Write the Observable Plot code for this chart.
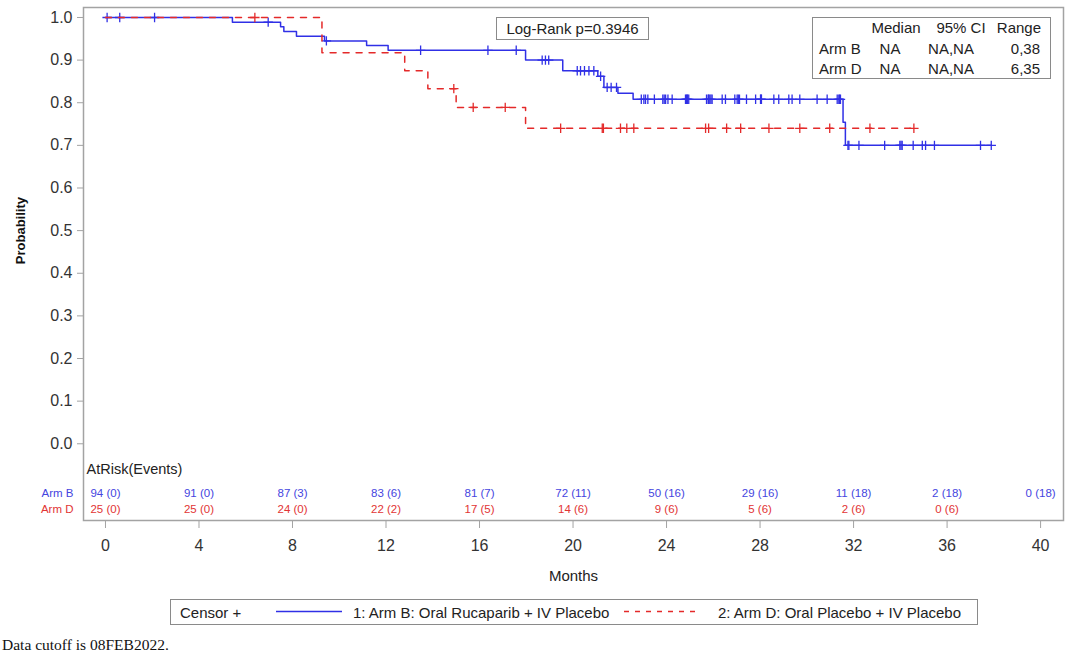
<!DOCTYPE html>
<html>
<head>
<meta charset="utf-8">
<script src="https://cdn.jsdelivr.net/npm/d3@7"></script>
<script src="https://cdn.jsdelivr.net/npm/@observablehq/plot@0.6"></script>
<style>
  body { margin: 0; background: #fff; font-family: "Liberation Sans", Arial, sans-serif; color: #222; }
  #wrap { position: relative; width: 1066px; height: 654px; overflow: hidden; background: #fff; }
  #chart { position: absolute; left: 0; top: 0; }
  .box { position: absolute; border: 1px solid #8a8a8a; background: #fff; box-sizing: border-box; }
  .cell { position: absolute; font-size: 15px; line-height: 1; white-space: nowrap; color: #222; }
  #legend { left: 170px; top: 599px; width: 808px; height: 26px; }
  #legend .item { position: absolute; top: 5px; font-size: 15px; line-height: 1; white-space: nowrap; }
  #legend svg { position: absolute; top: 0; }
  #caption { position: absolute; left: 2px; top: 636px; font-family: "Liberation Serif", "Times New Roman", serif; font-size: 15.5px; color: #111; white-space: nowrap; }
</style>
</head>
<body>
<div id="wrap">
  <div id="chart"></div>
  <div id="logrank" class="box"></div>
  <div id="stats" class="box"></div>
  <div id="legend" class="box"></div>
  <div id="caption"></div>
</div>
<script>
// Kaplan-Meier step points (months, survival probability)
const armBTimes = [0, 5.43, 7.49, 7.63, 8.17, 9.37, 11.17, 12.09, 17.97, 19.56, 21.06, 21.32, 21.92, 22.57, 31.55, 31.65, 37.89];
const armBSurv  = [1.0, 0.989, 0.978, 0.967, 0.956, 0.945, 0.934, 0.923, 0.900, 0.875, 0.862, 0.836, 0.822, 0.808, 0.754, 0.700, 0.700];
const armDTimes = [0, 9.26, 12.80, 13.79, 15.00, 17.97, 34.58];
const armDSurv  = [1.0, 0.917, 0.875, 0.833, 0.789, 0.740, 0.740];

// Censoring times (months)
const armBCensor = [0.07, 0.61, 2.1, 6.96, 9.45, 13.48, 16.36, 17.57, 18.68, 18.82, 18.96, 20.18, 20.32, 20.49, 20.68, 20.89,
  21.18, 21.46, 21.63, 21.86, 22.92, 23.03, 23.1, 23.2, 23.48, 23.84, 23.9, 23.96, 24.06, 24.24, 24.81, 24.85, 24.88, 24.9,
  24.95, 25.71, 25.78, 25.8, 25.85, 25.9, 25.95, 26.38, 26.52, 26.92, 27.02, 27.07, 27.12, 27.42, 27.81, 28.02, 28.04, 28.06,
  28.59, 28.8, 29.23, 29.37, 29.7, 30.44, 30.87, 31.3, 31.37, 31.4, 31.44, 31.76, 31.8, 32.23, 33.33, 33.98, 34.03, 34.08,
  34.55, 34.94, 35.08, 35.46, 37.43, 37.89];
const armDCensor = [6.39, 14.9, 15.73, 17.1, 19.47, 21.25, 21.3, 22.03, 22.3, 22.6, 25.67, 25.8, 26.57, 27.17, 28.38, 29.7,
  30.98, 32.7, 34.58];

// Axis ticks
const monthTicks = [0, 4, 8, 12, 16, 20, 24, 28, 32, 36, 40];
const probTicks = [0, 0.1, 0.2, 0.3, 0.4, 0.5, 0.6, 0.7, 0.8, 0.9, 1.0];

// Number at risk (cumulative events) at each month tick
const armBAtRisk = ["94 (0)", "91 (0)", "87 (3)", "83 (6)", "81 (7)", "72 (11)", "50 (16)", "29 (16)", "11 (18)", "2 (18)", "0 (18)"];
const armDAtRisk = ["25 (0)", "25 (0)", "24 (0)", "22 (2)", "17 (5)", "14 (6)", "9 (6)", "5 (6)", "2 (6)", "0 (6)"];

// Summary statistics
const statHeaders = ["Median", "95% CI", "Range"];
const statArms = ["Arm B", "Arm D"];
const statMedian = ["NA", "NA"];
const statCI = ["NA,NA", "NA,NA"];
const statRange = ["0,38", "6,35"];
const logRankText = "Log-Rank p=0.3946";

const legendLabels = ["1: Arm B: Oral Rucaparib + IV Placebo", "2: Arm D: Oral Placebo + IV Placebo"];
const captionText = "Data cutoff is 08FEB2022.";

const BLUE = "#3030e6";
const RED = "#e42a2a";
const BLUE_TXT = "#4545e0";
const RED_TXT = "#e23434";

const toPoints = (times, surv) => times.map((t, i) => ({t, s: surv[i]}));
const levelAt = (times, surv, t) => surv[Math.max(0, d3.bisectRight(times, t) - 1)];
const censorPoints = (cens, times, surv) => cens.map(t => ({t, s: levelAt(times, surv, t)}));

// Stroked "+" censor marker
const plusSymbol = {
  draw(context, size) {
    const r = Math.sqrt(size / Math.PI);
    context.moveTo(-r, 0); context.lineTo(r, 0);
    context.moveTo(0, -r); context.lineTo(0, r);
  }
};

const H = 590;
const chart = Plot.plot({
  width: 1066,
  height: H,
  marginLeft: 83,
  marginRight: 3,
  marginTop: 7,
  marginBottom: H - 520,
  x: {domain: [-0.94, 40.98]},
  y: {domain: [-0.18, 1.0234]},
  style: {fontFamily: "'Liberation Sans', Arial, sans-serif", background: "white", color: "#222"},
  marks: [
    Plot.frame({stroke: "#a3a3a3", strokeWidth: 1.5}),
    Plot.axisY({ticks: probTicks, tickFormat: d3.format(".1f"), tickSize: 6, tickPadding: 5,
      fontSize: 16, stroke: "#a3a3a3", fill: "#333", label: null}),
    Plot.axisX({ticks: monthTicks, tickFormat: d => String(d), tickSize: 8, tickPadding: 11,
      fontSize: 16, stroke: "#a3a3a3", fill: "#333", label: null}),
    Plot.text(["Months"], {text: d => d, frameAnchor: "bottom", dy: 60, fontSize: 15, fill: "#222"}),
    Plot.text(["Probability"], {text: d => d, frameAnchor: "left", y: () => 0.5, dx: -63, rotate: -90,
      textAnchor: "middle", fontSize: 13, fontWeight: "bold", fill: "#111"}),

    // Survival curves
    Plot.line(toPoints(armBTimes, armBSurv), {x: "t", y: "s", curve: "step-after", stroke: BLUE, strokeWidth: 1.5}),
    Plot.dot(censorPoints(armBCensor, armBTimes, armBSurv), {x: "t", y: "s", symbol: plusSymbol, r: 4.7,
      fill: "none", stroke: BLUE, strokeWidth: 1.3}),
    Plot.line(toPoints(armDTimes, armDSurv), {x: "t", y: "s", curve: "step-after", stroke: RED, strokeWidth: 1.5,
      strokeDasharray: "6,7"}),
    Plot.dot(censorPoints(armDCensor, armDTimes, armDSurv), {x: "t", y: "s", symbol: plusSymbol, r: 4.7,
      fill: "none", stroke: RED, strokeWidth: 1.3}),

    // At-risk table inside the frame
    Plot.text(["AtRisk(Events)"], {text: d => d, frameAnchor: "bottom-left", dx: 3, dy: -47, textAnchor: "start",
      fontSize: 14.5, fill: "#222"}),
    Plot.text(["Arm B"], {text: d => d, frameAnchor: "bottom-left", dx: -10, dy: -24, textAnchor: "end",
      fontSize: 11.5, fill: BLUE_TXT}),
    Plot.text(["Arm D"], {text: d => d, frameAnchor: "bottom-left", dx: -10, dy: -8, textAnchor: "end",
      fontSize: 11.5, fill: RED_TXT}),
    Plot.text(monthTicks, {x: d => d, text: (d, i) => armBAtRisk[i], frameAnchor: "bottom", dy: -24,
      fontSize: 11.5, fill: BLUE_TXT}),
    Plot.text(monthTicks.slice(0, armDAtRisk.length), {x: d => d, text: (d, i) => armDAtRisk[i], frameAnchor: "bottom", dy: -8,
      fontSize: 11.5, fill: RED_TXT})
  ]
});
document.getElementById("chart").appendChild(chart);

// Log-rank annotation box
const lr = document.getElementById("logrank");
Object.assign(lr.style, {left: "496px", top: "17px", width: "153px", height: "23px"});
const lrText = document.createElement("div");
lrText.className = "cell";
Object.assign(lrText.style, {left: "0", width: "100%", textAlign: "center", top: "3px"});
lrText.textContent = logRankText;
lr.appendChild(lrText);

// Summary statistics box
const st = document.getElementById("stats");
const stLeft = 812, stTop = 17;
Object.assign(st.style, {left: stLeft + "px", top: stTop + "px", width: "239px", height: "62px"});
function cell(text, x, yc, anchor) {
  const el = document.createElement("div");
  el.className = "cell";
  el.textContent = text;
  el.style.top = (yc - stTop - 8) + "px";
  if (anchor === "start") el.style.left = (x - stLeft) + "px";
  else if (anchor === "end") { el.style.right = (stLeft + 239 - x) + "px"; }
  else { el.style.left = (x - stLeft - 60) + "px"; el.style.width = "120px"; el.style.textAlign = "center"; }
  st.appendChild(el);
}
cell(statHeaders[0], 895, 27, "middle");
cell(statHeaders[1], 960, 27, "middle");
cell(statHeaders[2], 1042, 27, "end");
statArms.forEach((arm, i) => {
  const yc = 48 + i * 20;
  cell(arm, 818, yc, "start");
  cell(statMedian[i], 889, yc, "middle");
  cell(statCI[i], 950, yc, "middle");
  cell(statRange[i], 1041, yc, "end");
});

// Bottom legend
const lg = document.getElementById("legend");
function item(text, left) {
  const el = document.createElement("div");
  el.className = "item";
  el.style.left = left + "px";
  el.textContent = text;
  lg.appendChild(el);
}
function sample(left, width, color, dash) {
  const ns = "http://www.w3.org/2000/svg";
  const svg = document.createElementNS(ns, "svg");
  svg.setAttribute("width", width); svg.setAttribute("height", 24);
  svg.style.left = left + "px";
  const ln = document.createElementNS(ns, "line");
  ln.setAttribute("x1", 0); ln.setAttribute("x2", width);
  ln.setAttribute("y1", 11.5); ln.setAttribute("y2", 11.5);
  ln.setAttribute("stroke", color); ln.setAttribute("stroke-width", 1.5);
  if (dash) ln.setAttribute("stroke-dasharray", dash);
  svg.appendChild(ln);
  lg.appendChild(svg);
}
item("Censor +", 9);
sample(105, 66, BLUE, null);
item(legendLabels[0], 182);
sample(453, 73, RED, "5,6");
item(legendLabels[1], 547);

document.getElementById("caption").textContent = captionText;
</script>
</body>
</html>
